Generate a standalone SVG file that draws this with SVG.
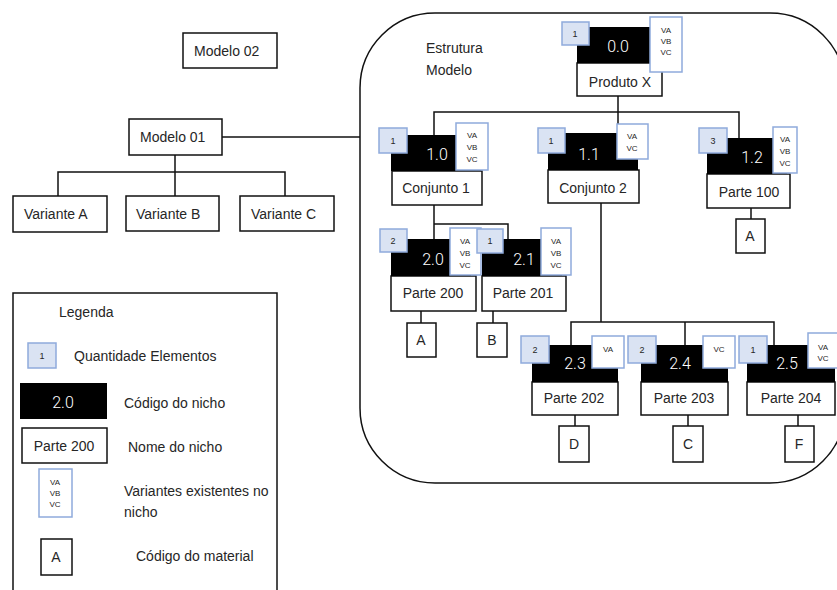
<svg xmlns="http://www.w3.org/2000/svg" width="837" height="590" viewBox="0 0 837 590">
  <style>
    text { font-family: "Liberation Sans", Arial, sans-serif; fill: #262626; }
    .box { fill: #fff; stroke: #111; stroke-width: 1.5; }
    .code { fill: #000; }
    .qty { fill: #dae3f3; stroke: #8faadc; stroke-width: 1.5; }
    .var { fill: #fff; stroke: #8faadc; stroke-width: 1.5; }
    .lbl { font-size: 14px; }
    .mid { text-anchor: middle; }
    .codetxt { font-family: Roboto, "Liberation Sans", sans-serif; font-weight: 300; font-size: 16px; fill: #fff; text-anchor: middle; }
    .qtytxt { font-size: 9px; text-anchor: middle; }
    .vartxt { font-size: 8px; text-anchor: middle; }
    .wire { fill: none; stroke: #111; stroke-width: 1.5; }
  </style>

  <rect width="837" height="590" fill="#fff"/>

  <!-- model structure frame -->
  <g id="frame">
    <rect x="360" y="13" width="485" height="470" rx="75" ry="75" fill="none" stroke="#111" stroke-width="1.5"/>
    <text class="lbl" x="426" y="53">Estrutura</text>
    <text class="lbl" x="426" y="75">Modelo</text>
  </g>

  <!-- connectors -->
  <g id="connectors" class="wire">
    <path d="M222 137 H360"/>
    <path d="M175 155 V172 M58 196 V172 H285 V196 M175 172 V196"/>
    <path d="M618 96 V135 M434 135 V112 H739 V138"/>
    <path d="M434 205 V239 M434 224 H508 V239"/>
    <path d="M751 208 V219"/>
    <path d="M421 311 V323 M493 311 V323"/>
    <path d="M601 203 V322 M571 345 V322 H774 V345 M685 322 V345"/>
    <path d="M575 415 V426 M688 415 V426 M798 415 V426"/>
  </g>

  <!-- models and variants -->
  <g id="modelo02">
    <rect class="box" x="183" y="33" width="94" height="35"/>
    <text class="lbl" x="194" y="56">Modelo 02</text>
  </g>
  <g id="modelo01">
    <rect class="box" x="129" y="119" width="93" height="36"/>
    <text class="lbl" x="140" y="142">Modelo 01</text>
  </g>
  <g id="varianteA">
    <rect class="box" x="13" y="196" width="94" height="36"/>
    <text class="lbl" x="24" y="219">Variante A</text>
  </g>
  <g id="varianteB">
    <rect class="box" x="126" y="196" width="93" height="35"/>
    <text class="lbl" x="136" y="219">Variante B</text>
  </g>
  <g id="varianteC">
    <rect class="box" x="240" y="196" width="94" height="35"/>
    <text class="lbl" x="251" y="219">Variante C</text>
  </g>

  <!-- niche 0.0 -->
  <g id="n00">
    <rect class="box" x="577" y="63" width="85" height="33"/>
    <rect class="code" x="577" y="27" width="82" height="36"/>
    <text class="codetxt" x="618" y="52">0.0</text>
    <rect class="qty" x="562" y="22" width="27" height="23"/>
    <text class="qtytxt" x="575" y="37">1</text>
    <rect class="var" x="650" y="17" width="32" height="55"/>
    <text class="vartxt" x="666" y="33">VA</text>
    <text class="vartxt" x="666" y="44">VB</text>
    <text class="vartxt" x="666" y="55">VC</text>
    <text class="lbl mid" x="620" y="87">Produto X</text>
  </g>

  <!-- niche 1.0 -->
  <g id="n10">
    <rect class="box" x="392" y="171" width="90" height="34"/>
    <rect class="code" x="391" y="135" width="90" height="36"/>
    <text class="codetxt" x="437" y="160">1.0</text>
    <rect class="qty" x="379" y="128" width="28" height="25"/>
    <text class="qtytxt" x="393" y="144">1</text>
    <rect class="var" x="456" y="123" width="32" height="47"/>
    <text class="vartxt" x="472" y="138">VA</text>
    <text class="vartxt" x="472" y="150">VB</text>
    <text class="vartxt" x="472" y="162">VC</text>
    <text class="lbl mid" x="436" y="193">Conjunto 1</text>
  </g>

  <!-- niche 1.1 -->
  <g id="n11">
    <rect class="box" x="548" y="170" width="91" height="33"/>
    <rect class="code" x="548" y="133" width="90" height="37"/>
    <text class="codetxt" x="589" y="160">1.1</text>
    <rect class="qty" x="538" y="128" width="27" height="25"/>
    <text class="qtytxt" x="551" y="144">1</text>
    <rect class="var" x="617" y="124" width="31" height="35"/>
    <text class="vartxt" x="632" y="139">VA</text>
    <text class="vartxt" x="632" y="151">VC</text>
    <text class="lbl mid" x="593" y="193">Conjunto 2</text>
  </g>

  <!-- niche 1.2 -->
  <g id="n12">
    <rect class="box" x="707" y="174" width="83" height="34"/>
    <rect class="code" x="707" y="138" width="80" height="36"/>
    <text class="codetxt" x="752" y="163">1.2</text>
    <rect class="qty" x="699" y="128" width="28" height="25"/>
    <text class="qtytxt" x="713" y="144">3</text>
    <rect class="var" x="773" y="127" width="24" height="46"/>
    <text class="vartxt" x="785" y="142">VA</text>
    <text class="vartxt" x="785" y="154">VB</text>
    <text class="vartxt" x="785" y="166">VC</text>
    <text class="lbl mid" x="749" y="197">Parte 100</text>
  </g>
  <g id="m12">
    <rect class="box" x="736" y="219" width="29" height="34"/>
    <text class="lbl mid" x="750" y="241">A</text>
  </g>

  <!-- niche 2.0 -->
  <g id="n20">
    <rect class="box" x="391" y="276" width="85" height="35"/>
    <rect class="code" x="391" y="239" width="80" height="37"/>
    <text class="codetxt" x="433" y="265">2.0</text>
    <rect class="qty" x="380" y="229" width="27" height="23"/>
    <text class="qtytxt" x="393" y="244">2</text>
    <rect class="var" x="450" y="228" width="31" height="47"/>
    <text class="vartxt" x="465" y="244">VA</text>
    <text class="vartxt" x="465" y="256">VB</text>
    <text class="vartxt" x="465" y="268">VC</text>
    <text class="lbl mid" x="433" y="298">Parte 200</text>
  </g>
  <g id="m20">
    <rect class="box" x="407" y="323" width="29" height="34"/>
    <text class="lbl mid" x="421" y="345">A</text>
  </g>

  <!-- niche 2.1 -->
  <g id="n21">
    <rect class="box" x="482" y="276" width="84" height="35"/>
    <rect class="code" x="482" y="239" width="80" height="37"/>
    <text class="codetxt" x="524" y="265">2.1</text>
    <rect class="qty" x="477" y="229" width="26" height="24"/>
    <text class="qtytxt" x="490" y="244">1</text>
    <rect class="var" x="541" y="228" width="30" height="47"/>
    <text class="vartxt" x="556" y="244">VA</text>
    <text class="vartxt" x="556" y="256">VB</text>
    <text class="vartxt" x="556" y="268">VC</text>
    <text class="lbl mid" x="523" y="298">Parte 201</text>
  </g>
  <g id="m21">
    <rect class="box" x="477" y="323" width="30" height="34"/>
    <text class="lbl mid" x="492" y="345">B</text>
  </g>

  <!-- niche 2.3 -->
  <g id="n23">
    <rect class="box" x="532" y="382" width="86" height="33"/>
    <rect class="code" x="532" y="345" width="86" height="37"/>
    <text class="codetxt" x="575" y="369">2.3</text>
    <rect class="qty" x="521" y="336" width="28" height="27"/>
    <text class="qtytxt" x="535" y="353">2</text>
    <rect class="var" x="592" y="336" width="32" height="32"/>
    <text class="vartxt" x="608" y="352">VA</text>
    <text class="lbl mid" x="574" y="403">Parte 202</text>
  </g>
  <g id="m23">
    <rect class="box" x="559" y="426" width="30" height="36"/>
    <text class="lbl mid" x="574" y="449">D</text>
  </g>

  <!-- niche 2.4 -->
  <g id="n24">
    <rect class="box" x="641" y="382" width="87" height="33"/>
    <rect class="code" x="641" y="345" width="87" height="37"/>
    <text class="codetxt" x="680" y="369">2.4</text>
    <rect class="qty" x="628" y="336" width="28" height="27"/>
    <text class="qtytxt" x="642" y="353">2</text>
    <rect class="var" x="703" y="336" width="32" height="32"/>
    <text class="vartxt" x="719" y="352">VC</text>
    <text class="lbl mid" x="684" y="403">Parte 203</text>
  </g>
  <g id="m24">
    <rect class="box" x="673" y="426" width="30" height="36"/>
    <text class="lbl mid" x="688" y="449">C</text>
  </g>

  <!-- niche 2.5 -->
  <g id="n25">
    <rect class="box" x="747" y="382" width="88" height="33"/>
    <rect class="code" x="747" y="345" width="88" height="37"/>
    <text class="codetxt" x="787" y="369">2.5</text>
    <rect class="qty" x="739" y="336" width="28" height="27"/>
    <text class="qtytxt" x="753" y="353">1</text>
    <rect class="var" x="808" y="333" width="30" height="35"/>
    <text class="vartxt" x="823" y="350">VA</text>
    <text class="vartxt" x="823" y="361">VC</text>
    <text class="lbl mid" x="791" y="403">Parte 204</text>
  </g>
  <g id="m25">
    <rect class="box" x="785" y="426" width="29" height="36"/>
    <text class="lbl mid" x="799" y="449">F</text>
  </g>

  <!-- legend -->
  <g id="legend">
    <rect x="13" y="293" width="264" height="310" fill="none" stroke="#111" stroke-width="1.5"/>
    <text class="lbl" x="59" y="317">Legenda</text>
    <rect class="qty" x="28" y="343" width="28" height="25"/>
    <text class="qtytxt" x="42" y="359">1</text>
    <text class="lbl" x="74" y="361">Quantidade Elementos</text>
    <rect class="code" x="20" y="383" width="87" height="36"/>
    <text class="codetxt" x="63" y="408">2.0</text>
    <text class="lbl" x="124" y="408">Código do nicho</text>
    <rect class="box" x="22" y="428" width="85" height="35"/>
    <text class="lbl mid" x="64" y="451">Parte 200</text>
    <text class="lbl" x="128" y="452">Nome do nicho</text>
    <rect class="var" x="39" y="469" width="33" height="48"/>
    <text class="vartxt" x="55" y="485">VA</text>
    <text class="vartxt" x="55" y="496">VB</text>
    <text class="vartxt" x="55" y="507">VC</text>
    <text class="lbl" x="124" y="496">Variantes existentes no</text>
    <text class="lbl" x="124" y="517">nicho</text>
    <rect class="box" x="41" y="539" width="31" height="36"/>
    <text class="lbl mid" x="56" y="562">A</text>
    <text class="lbl" x="136" y="561">Código do material</text>
  </g>
</svg>
